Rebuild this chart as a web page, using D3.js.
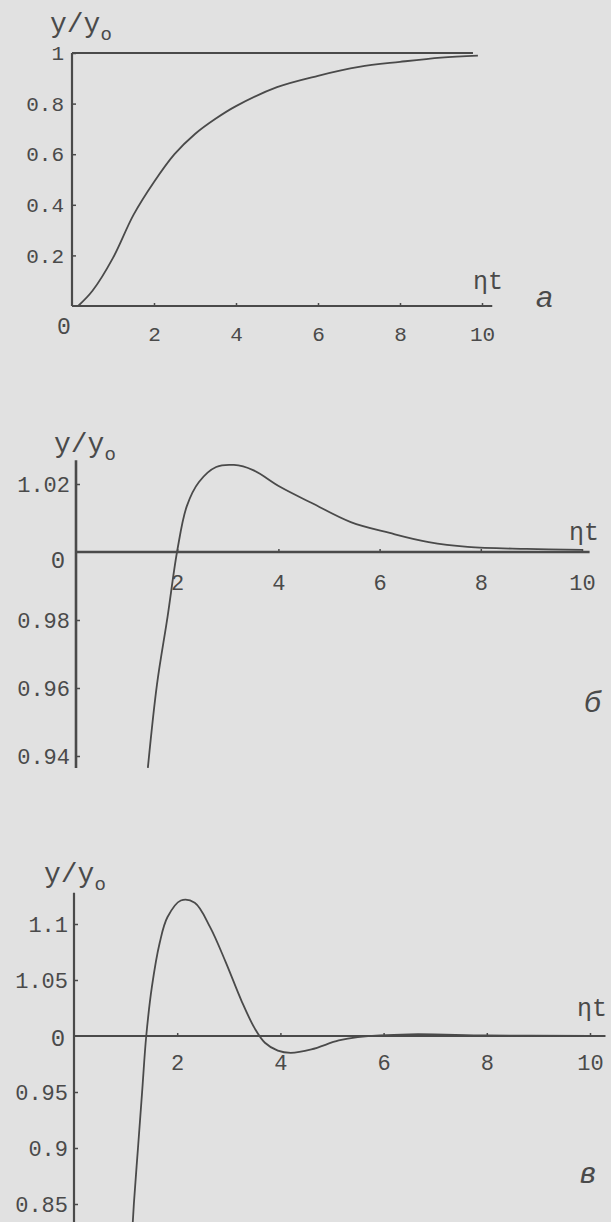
<!DOCTYPE html>
<html>
<head>
<meta charset="utf-8">
<script src="https://cdn.jsdelivr.net/npm/d3@7"></script>
<style>
  body { margin: 0; background: #e2e2e2; }
  svg { display: block; }
</style>
</head>
<body>
<div id="fig"></div>
<script>
// ---- data ----
var xTicks = [2, 4, 6, 8, 10];

// panel a : monotone rise to saturation
var aT = [0.15, 0.5, 1.0, 1.5, 2.0, 2.5, 3.0, 3.5, 4.0, 5.0, 6.0, 7.0, 8.0, 9.0, 9.9];
var aY = [0, 0.06, 0.19, 0.36, 0.49, 0.60, 0.68, 0.74, 0.79, 0.865, 0.91, 0.945, 0.965, 0.982, 0.99];
var aYTicks = [0.2, 0.4, 0.6, 0.8, 1];

// panel б : overshoot, slow relaxation
var bT = [1.42, 1.6, 1.81, 2.0, 2.19, 2.43, 2.77, 3.12, 3.5, 4.04, 4.66, 5.43, 6.2, 6.97, 7.74, 8.9, 10];
var bY = [0.9365, 0.961, 0.981, 1.0003, 1.0135, 1.0206, 1.025, 1.0256, 1.0241, 1.0191, 1.0144, 1.0088, 1.0056, 1.0029, 1.0015, 1.0009, 1.0006];
var bYTicks = [0.94, 0.96, 0.98, 1.02];

// panel в : damped oscillation
var cT = [1.10, 1.16, 1.24, 1.32, 1.40, 1.51, 1.66, 1.81, 2.07, 2.34, 2.64, 2.94, 3.25, 3.5, 3.7, 3.95, 4.2, 4.6, 5.13, 5.5, 6.5, 8, 10];
var cY = [0.80, 0.85, 0.90, 0.95, 1.0, 1.044, 1.083, 1.106, 1.121, 1.119, 1.097, 1.066, 1.031, 1.007, 0.994, 0.987, 0.985, 0.988, 0.996, 0.999, 1.0015, 1.0005, 1.0];
var cYTicks = [0.85, 0.9, 0.95, 1.05, 1.1];

var width = 611, height = 1222;
var ink = "#4a4a4a";
var mono = "'Liberation Mono', 'DejaVu Sans Mono', monospace";

var svg = d3.select("#fig").append("svg")
  .attr("width", width)
  .attr("height", height);

svg.append("rect").attr("width", width).attr("height", height).attr("fill", "#e1e1e1");

function fmt(d) { return String(d); }

function panel(p) {
  var x = d3.scaleLinear().domain([0, 10]).range(p.xr);
  var y = d3.scaleLinear().domain(p.yd).range(p.yr);
  var g = svg.append("g");

  // y axis with short inside ticks
  var ya = g.append("g")
    .attr("transform", "translate(" + x(0) + ",0)")
    .call(d3.axisLeft(y).tickValues(p.yTicks).tickFormat(fmt).tickSize(-4).tickPadding(p.yPad));
  // x axis
  var xa = g.append("g")
    .attr("transform", "translate(0," + y(p.base) + ")")
    .call(d3.axisBottom(x).tickValues(xTicks).tickFormat(fmt).tickSize(-3).tickPadding(p.xPad));

  [ya, xa].forEach(function(a) {
    a.select(".domain").remove();
    a.selectAll("line").attr("stroke", ink).attr("stroke-width", 1.5);
    a.selectAll("text").attr("fill", ink).style("font-family", mono).style("font-size", p.fs + "px");
  });

  // axis lines
  g.append("line")
    .attr("x1", x(0)).attr("x2", x(0))
    .attr("y1", y(p.yTop)).attr("y2", p.yBot === null ? height : y(p.yBot))
    .attr("stroke", ink).attr("stroke-width", p.axW);
  g.append("line")
    .attr("x1", x(0)).attr("x2", x(p.xEnd))
    .attr("y1", y(p.base)).attr("y2", y(p.base))
    .attr("stroke", ink).attr("stroke-width", p.axW);
  if (p.refLine) {
    g.append("line")
      .attr("x1", x(0)).attr("x2", x(p.refLine[1]))
      .attr("y1", y(p.refLine[0])).attr("y2", y(p.refLine[0]))
      .attr("stroke", ink).attr("stroke-width", p.axW);
  }

  // curve
  var pts = p.t.map(function(t, i) { return [t, p.v[i]]; });
  g.append("path")
    .datum(pts)
    .attr("fill", "none")
    .attr("stroke", ink)
    .attr("stroke-width", 1.8)
    .attr("d", d3.line()
      .x(function(d) { return x(d[0]); })
      .y(function(d) { return y(d[1]); })
      .curve(d3.curveCatmullRom.alpha(0.5)));

  // origin label
  g.append("text")
    .attr("x", x(0) + p.zero[0]).attr("y", y(p.base) + p.zero[1])
    .attr("text-anchor", "middle").attr("dy", "0.35em")
    .attr("fill", ink).style("font-family", mono).style("font-size", (p.fs + 2) + "px")
    .text("0");

  // y/yo title
  var tt = g.append("text")
    .attr("x", x(0) + p.ttl[0]).attr("y", y(p.yTop) + p.ttl[1])
    .attr("fill", ink).style("font-family", mono).style("font-size", "28px");
  tt.append("tspan").text("y/y");
  tt.append("tspan").attr("dy", 8).style("font-size", "19px").text("o");

  // eta t
  g.append("text")
    .attr("x", p.eta[0]).attr("y", y(p.base) + p.eta[1])
    .attr("fill", ink).style("font-family", mono).style("font-size", "25px")
    .text("ηt");

  // panel letter
  g.append("text")
    .attr("x", p.letter[0]).attr("y", y(p.base) + p.letter[1])
    .attr("fill", ink).style("font-family", "'Liberation Sans', Arial, sans-serif")
    .style("font-style", "italic").style("font-size", "30px")
    .text(p.letter[2]);
}

panel({
  t: aT, v: aY, yTicks: aYTicks,
  xr: [72, 482], yd: [0, 1], yr: [306, 53],
  base: 0, yTop: 1, yBot: 0, xEnd: 10.25, refLine: [1, 9.78],
  axW: 2.2, fs: 21, yPad: 8, xPad: 20,
  zero: [-8, 20], ttl: [-22, -21], eta: [473, -17], letter: [536, 1, "а"]
});

panel({
  t: bT, v: bY, yTicks: bYTicks,
  xr: [76, 582], yd: [0.94, 1.02], yr: [756, 484],
  base: 1, yTop: 1.027, yBot: 0.9365, xEnd: 10.15, refLine: null,
  axW: 2.6, fs: 22, yPad: 6, xPad: 22,
  zero: [-18, 8], ttl: [-22, -8], eta: [569, -12], letter: [584, 160, "б"]
});

panel({
  t: cT, v: cY, yTicks: cYTicks,
  xr: [74, 590], yd: [0.85, 1.1], yr: [1204, 924],
  base: 1, yTop: 1.128, yBot: null, xEnd: 10.3, refLine: null,
  axW: 2.2, fs: 22, yPad: 6, xPad: 18,
  zero: [-16, 2], ttl: [-30, -11], eta: [577, -20], letter: [580, 147, "в"]
});
</script>
</body>
</html>
